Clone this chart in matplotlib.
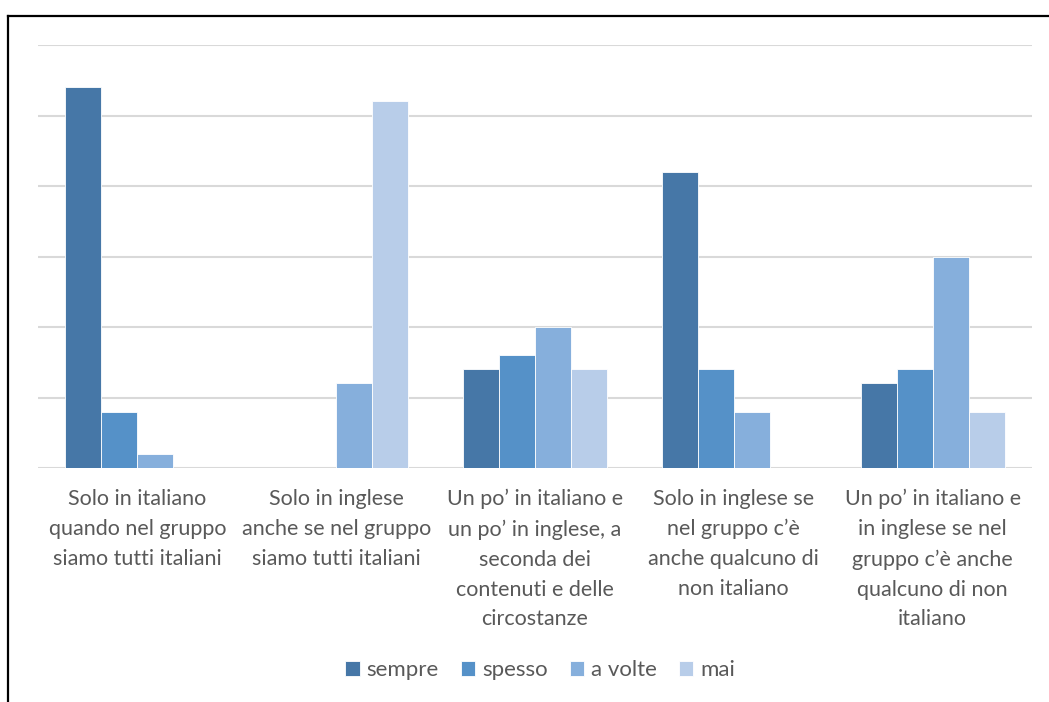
import matplotlib
matplotlib.use("Agg")
import matplotlib.pyplot as plt
from matplotlib.lines import Line2D
import numpy as np

categories = [
    "Solo in italiano\nquando nel gruppo\nsiamo tutti italiani",
    "Solo in inglese\nanche se nel gruppo\nsiamo tutti italiani",
    "Un po\u2019 in italiano e\nun po\u2019 in inglese, a\nseconda dei\ncontenuti e delle\ncircostanze",
    "Solo in inglese se\nnel gruppo c\u2019\u00e8\nanche qualcuno di\nnon italiano",
    "Un po\u2019 in italiano e\nin inglese se nel\ngruppo c\u2019\u00e8 anche\nqualcuno di non\nitaliano",
]
series_names = ["sempre", "spesso", "a volte", "mai"]
sempre = [27, 0, 7, 21, 6]
spesso = [4, 0, 8, 7, 7]
a_volte = [1, 6, 10, 4, 15]
mai = [0, 26, 7, 0, 4]
colors = ["#4677a7", "#5591c8", "#86afdc", "#b8cde9"]

plt.rcParams['font.family'] = ['Lato', 'DejaVu Sans']

fig = plt.figure(figsize=(10.49, 7.02), dpi=100)
ax = fig.add_axes([38 / 1049, 1 - 468 / 702, (1032 - 38) / 1049, (468 - 45) / 702])

x = np.arange(len(categories))
w = 0.181
for i, (vals, name) in enumerate(zip([sempre, spesso, a_volte, mai], series_names)):
    ax.bar(x + (i - 1.5) * w, vals, w, color=colors[i], label=name,
           edgecolor="white", linewidth=0.6, zorder=3)

ax.set_xlim(-0.5, len(categories) - 0.5)
ax.set_ylim(0, 30)
ax.set_yticks(np.arange(0, 31, 5))
ax.yaxis.grid(True, color="#d9d9d9", linewidth=1.5, zorder=0)
ax.tick_params(axis="y", left=False, labelleft=False)
ax.tick_params(axis="x", length=0, pad=15)
ax.set_xticks(x)
ax.set_xticklabels(categories, fontsize=15.5, color="#595959", linespacing=1.62)
for s in ax.spines.values():
    s.set_visible(False)

leg = fig.legend(loc="center", bbox_to_anchor=(540 / 1049, 1 - 670 / 702), ncol=4,
                 frameon=False, fontsize=16, handlelength=0.65, handleheight=0.65,
                 columnspacing=1.0, handletextpad=0.3)
for t in leg.get_texts():
    t.set_color("#595959")

fig.add_artist(Line2D([8 / 1049, 1], [1 - 16 / 702] * 2, color="black", linewidth=1.6,
                      transform=fig.transFigure))
fig.add_artist(Line2D([8 / 1049] * 2, [0, 1 - 16 / 702], color="black", linewidth=1.6,
                      transform=fig.transFigure))

fig.savefig("out.png", dpi=100)
